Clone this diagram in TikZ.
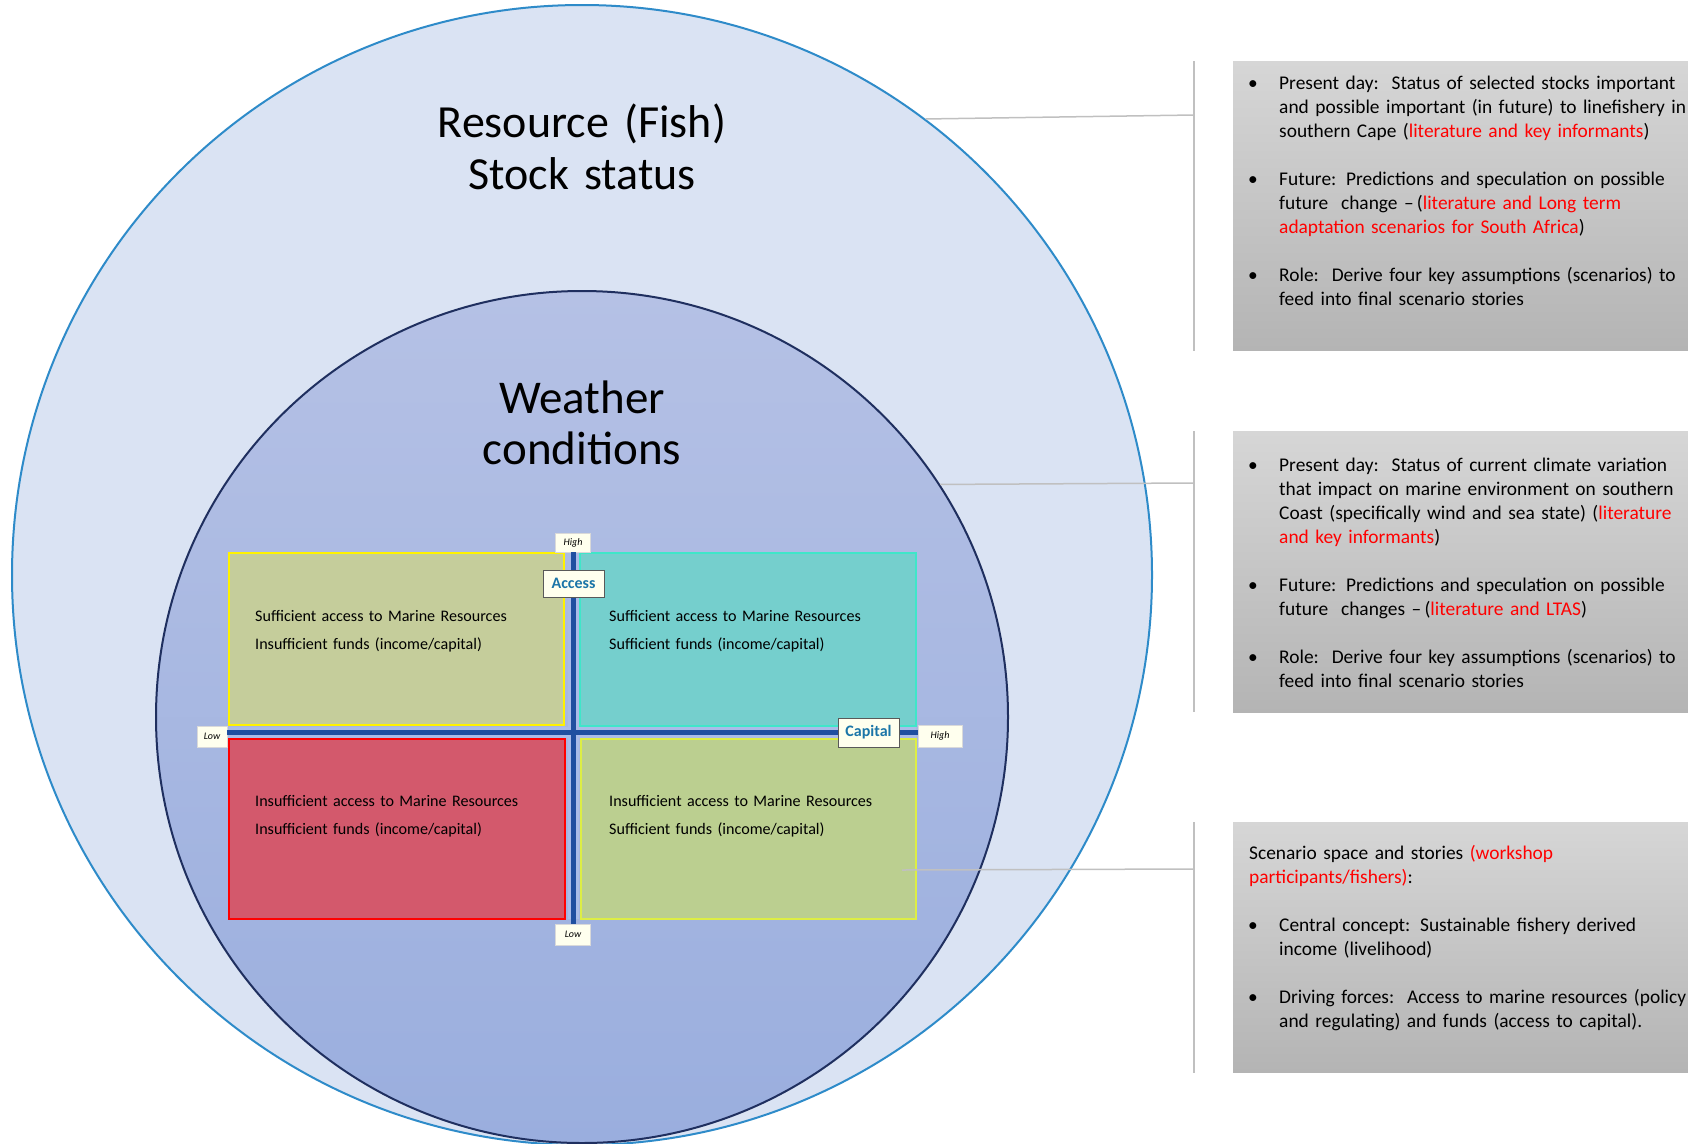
\documentclass[tikz,border=0pt]{standalone}
\usepackage{fontspec}
\setmainfont{Carlito}
\usetikzlibrary{positioning}

\definecolor{outerfill}{HTML}{DAE3F3}
\definecolor{outerline}{HTML}{2E8BC9}
\definecolor{innertop}{HTML}{B5C1E5}
\definecolor{innerbot}{HTML}{9AAEDE}
\definecolor{innerline}{HTML}{1F2F5F}
\definecolor{olivefill}{HTML}{C5CD9B}
\definecolor{tealfill}{HTML}{75CFCD}
\definecolor{tealline}{HTML}{3FE6C9}
\definecolor{rosefill}{HTML}{D3596C}
\definecolor{limefill}{HTML}{BBCF90}
\definecolor{limeline}{HTML}{DDEE44}
\definecolor{axisdark}{HTML}{1F4FA0}
\definecolor{axislight}{HTML}{AABCE8}
\definecolor{keytext}{HTML}{1B75A8}
\definecolor{tagfill}{HTML}{FFFFEE}
\definecolor{greytop}{HTML}{D6D6D6}
\definecolor{greybot}{HTML}{B4B4B4}
\definecolor{linkgrey}{HTML}{C0C0C0}
\definecolor{srcred}{HTML}{FF0000}

\newcommand{\bul}{\makebox[31pt][l]{\textbullet}}
\newcommand{\ind}{\hspace*{31pt}}
\newcommand{\src}[1]{\textcolor{srcred}{#1}}

\begin{document}
\begin{tikzpicture}[x=1pt, y=-1pt,
    ring/.style = {circle, inner sep=0pt, line width=2pt},
    title/.style = {anchor=base, align=center, text width=500pt, inner sep=0pt},
    quad/.style = {rectangle, inner sep=0pt, line width=2pt},
    quadtext/.style = {anchor=base west, align=left, text width=320pt, inner sep=0pt,
      font=\fontsize{16.1}{28.5}\selectfont},
    tag/.style = {fill=tagfill, draw=gray!30, inner sep=0pt,
      font=\fontsize{10}{12}\selectfont\itshape},
    axiskey/.style = {fill=tagfill, draw=gray!70!black, inner sep=0pt,
      minimum width=61pt, font=\fontsize{16}{18}\selectfont\bfseries, text=keytext},
    axisline/.style = {line width=5pt, draw=axisdark},
    infobox/.style = {rectangle, anchor=north west, inner sep=0pt, minimum width=470pt,
      top color=greytop, bottom color=greybot},
    infotext/.style = {anchor=base west, align=left, text width=450pt, inner sep=0pt,
      font=\fontsize{19.4}{24}\selectfont},
    link/.style = {draw=linkgrey, line width=1.5pt}]
  \useasboundingbox (0,0) rectangle (1688,1143);

  % circles
  \node[ring, fill=outerfill, draw=outerline, minimum size=1140pt] (fish) at (582,575) {};
  \node[ring, top color=innertop, bottom color=innerbot, draw=innerline,
    minimum size=852pt] (weather) at (582,717) {};
  \node[title, font=\fontsize{46}{52}\selectfont] (fishtitle) at (582,137) {Resource (Fish)\\Stock status};
  \node[title, font=\fontsize{47}{51}\selectfont] (weathertitle) at (582,413) {Weather\\conditions};

  % scenario quadrants
  \draw[line width=11pt, axislight] (229,732) -- (916,732);
  \draw[line width=11pt, axislight] (573,553) -- (573,919);
  \node[quad, fill=olivefill, draw=yellow, minimum width=335pt, minimum height=172pt] (q1) at (396.5,639) {};
  \node[quad, fill=tealfill, draw=tealline, minimum width=336pt, minimum height=173pt] (q2) at (748,639.5) {};
  \node[quad, fill=rosefill, draw=srcred, minimum width=336pt, minimum height=180pt] (q3) at (397,829) {};
  \node[quad, fill=limefill, draw=limeline, minimum width=335pt, minimum height=180pt] (q4) at (748.5,829) {};
  \node[quadtext] (q1text) at (255,621) {Sufficient access to Marine Resources\\Insufficient funds (income/capital)};
  \node[quadtext] (q2text) at (609,621) {Sufficient access to Marine Resources\\Sufficient funds (income/capital)};
  \node[quadtext] (q3text) at (255,806) {Insufficient access to Marine Resources\\Insufficient funds (income/capital)};
  \node[quadtext] (q4text) at (609,806) {Insufficient access to Marine Resources\\Sufficient funds (income/capital)};

  % axes
  \node[tag, minimum width=35pt, minimum height=19pt] (hightop) at (573,542.5) {High};
  \node[tag, minimum width=35pt, minimum height=21pt] (lowbot) at (573,934.5) {Low};
  \node[tag, minimum width=30pt, minimum height=21pt] (lowleft) at (212,736.5) {Low};
  \node[tag, minimum width=44pt, minimum height=22pt] (highright) at (940,736) {High};
  \draw[axisline] (lowleft.east |- 0,732) -- (highright.west |- 0,732);
  \draw[axisline] (hightop.south) -- (lowbot.north);
  \node[axiskey, minimum height=27pt] (access) at (573.5,583.5) {Access};
  \node[axiskey, minimum height=29pt] (capital) at (868.5,732.5) {Capital};

  % notes
  \node[infobox, minimum height=289pt] (info1) at (1233,61) {};
  \node[infobox, minimum height=281pt] (info2) at (1233,431) {};
  \node[infobox, minimum height=250pt] (info3) at (1233,822) {};
  \node[infotext] (info1text) at (1248,89) {%
    \bul Present day:\ \ Status of selected stocks important\\
    \ind and possible important (in future) to linefishery in\\
    \ind southern Cape (\src{literature and key informants})\\[24pt]
    \bul Future: Predictions and speculation on possible\\
    \ind future\ \ change –\,(\src{literature and Long term}\\
    \ind \src{adaptation scenarios for South Africa})\\[24pt]
    \bul Role:\ \ Derive four key assumptions (scenarios) to\\
    \ind feed into final scenario stories};
  \node[infotext] (info2text) at (1248,471) {%
    \bul Present day:\ \ Status of current climate variation\\
    \ind that impact on marine environment on southern\\
    \ind Coast (specifically wind and sea state) (\src{literature}\\
    \ind \src{and key informants})\\[24pt]
    \bul Future: Predictions and speculation on possible\\
    \ind future\ \ changes –\,(\src{literature and LTAS})\\[24pt]
    \bul Role:\ \ Derive four key assumptions (scenarios) to\\
    \ind feed into final scenario stories};
  \node[infotext] (info3text) at (1249,859) {%
    Scenario space and stories \src{(workshop}\\
    \src{participants/fishers)}:\\[24pt]
    \hspace*{-1pt}\bul Central concept: Sustainable fishery derived\\
    \hspace*{30pt}income (livelihood)\\[24pt]
    \hspace*{-1pt}\bul Driving forces:\ \ Access to marine resources (policy\\
    \hspace*{30pt}and regulating) and funds (access to capital).};

  % connectors
  \coordinate (b1top) at (1194,61);
  \coordinate (b1bot) at (1194,351);
  \coordinate (b1mid) at (1194,115);
  \coordinate (b2top) at (1194,431);
  \coordinate (b2bot) at (1194,712);
  \coordinate (b2mid) at (1194,483);
  \coordinate (b3top) at (1194,822);
  \coordinate (b3bot) at (1194,1073);
  \coordinate (b3mid) at (1194,869);
  \coordinate (q4pin) at (902,870);
  \draw[link] (b1top) -- (b1bot);
  \draw[link] (b2top) -- (b2bot);
  \draw[link] (b3top) -- (b3bot);
  \draw[link] (fish.53.3) -- (b1mid);
  \draw[link] (weather.33.5) -- (b2mid);
  \draw[link] (q4pin) -- (b3mid);
\end{tikzpicture}
\end{document}
